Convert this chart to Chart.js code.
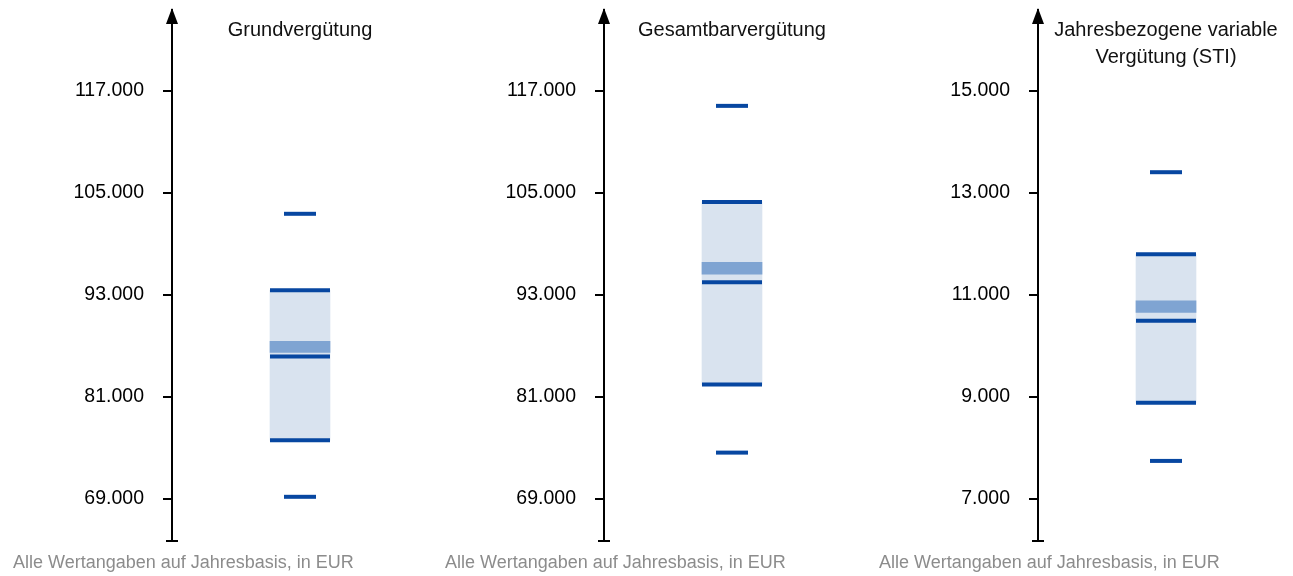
<!DOCTYPE html>
<html>
<head>
<meta charset="utf-8">
<script src="https://cdn.jsdelivr.net/npm/chart.js@4"></script>
<style>
    body { margin: 0; background: #fff; width: 1293px; height: 576px; overflow: hidden; position: relative; font-family: "Liberation Sans", Arial, sans-serif; }
    canvas { position: absolute; top: 0; }
    .title { position: absolute; top: 16px; width: 256px; text-align: center; font-size: 20px; line-height: 27px; color: #111; }
    .note { position: absolute; top: 552px; font-size: 18px; line-height: 20px; color: #8c8c8c; white-space: nowrap; }
</style>
</head>
<body>
<canvas id="panel0" width="428" height="576"></canvas>
<canvas id="panel1" width="428" height="576"></canvas>
<canvas id="panel2" width="428" height="576"></canvas>
<script>
// one entry per panel
const panelTitles = ["Grundvergütung", "Gesamtbarvergütung", "Jahresbezogene variable<br>Vergütung (STI)"];
const footNote = "Alle Wertangaben auf Jahresbasis, in EUR";
const tickValues = [
    [69000, 81000, 93000, 105000, 117000],
    [69000, 81000, 93000, 105000, 117000],
    [7000, 9000, 11000, 13000, 15000]
];
const tickLabels = [
    ["69.000", "81.000", "93.000", "105.000", "117.000"],
    ["69.000", "81.000", "93.000", "105.000", "117.000"],
    ["7.000", "9.000", "11.000", "13.000", "15.000"]
];
const axisMin = [64000, 64000, 6170];
const axisMax = [126480, 126480, 16580];

const whiskerHigh = [102500, 115200, 13400];
const boxHigh = [93500, 103900, 11790];
const bandHigh = [87500, 96800, 10880];
const bandLow = [86200, 95400, 10650];
const medianLine = [85700, 94450, 10490];
const boxLow = [75850, 82400, 8880];
const whiskerLow = [69200, 74400, 7740];

const panelLeft = [0, 432, 866];
const darkBlue = "#0747a1";

// arrow on top of the y axis and a small cap at its bottom
const axisArrow = {
    id: "axisArrow",
    afterDraw(chart) {
        const ctx = chart.ctx;
        const a = chart.chartArea;
        const x = a.left;
        ctx.save();
        ctx.fillStyle = "#000";
        ctx.beginPath();
        ctx.moveTo(x, a.top - 2);
        ctx.lineTo(x - 6, a.top + 14);
        ctx.lineTo(x + 6, a.top + 14);
        ctx.closePath();
        ctx.fill();
        ctx.strokeStyle = "#000";
        ctx.lineWidth = 2;
        ctx.beginPath();
        ctx.moveTo(x - 6, a.bottom);
        ctx.lineTo(x + 6, a.bottom);
        ctx.stroke();
        ctx.restore();
    }
};

function drawPanel(i) {
    const canvas = document.getElementById("panel" + i);
    canvas.style.left = panelLeft[i] + "px";

    const title = document.createElement("div");
    title.className = "title";
    title.innerHTML = panelTitles[i];
    title.style.left = (panelLeft[i] + 172) + "px";
    document.body.appendChild(title);

    const note = document.createElement("div");
    note.className = "note";
    note.textContent = footNote;
    note.style.left = (panelLeft[i] + 13) + "px";
    document.body.appendChild(note);

    new Chart(canvas, {
        type: "bar",
        data: {
            labels: [""],
            datasets: [
                {
                    type: "line",
                    data: [boxHigh[i], medianLine[i], boxLow[i]].map(v => ({ x: "", y: v })),
                    showLine: false,
                    pointStyle: "line",
                    pointRadius: 30,
                    pointBorderWidth: 4,
                    pointBorderColor: darkBlue,
                    order: 0
                },
                {
                    type: "line",
                    data: [whiskerHigh[i], whiskerLow[i]].map(v => ({ x: "", y: v })),
                    showLine: false,
                    pointStyle: "line",
                    pointRadius: 16,
                    pointBorderWidth: 4,
                    pointBorderColor: darkBlue,
                    order: 0
                },
                {
                    data: [[bandLow[i], bandHigh[i]]],
                    backgroundColor: "#7fa4d2",
                    barThickness: 60,
                    grouped: false,
                    order: 1
                },
                {
                    data: [[boxLow[i], boxHigh[i]]],
                    backgroundColor: "#d9e3ef",
                    barThickness: 60,
                    grouped: false,
                    order: 2
                }
            ]
        },
        options: {
            responsive: false,
            animation: false,
            events: [],
            layout: { autoPadding: false, padding: { top: 10, bottom: 35, left: 0, right: 0 } },
            plugins: { legend: { display: false }, tooltip: { enabled: false } },
            scales: {
                x: { display: false },
                y: {
                    min: axisMin[i],
                    max: axisMax[i],
                    afterBuildTicks: s => { s.ticks = tickValues[i].map(v => ({ value: v })); },
                    afterFit: s => { s.width = 172; s.paddingTop = 0; s.paddingBottom = 0; },
                    border: { color: "#000", width: 2 },
                    grid: { drawOnChartArea: false, drawTicks: true, tickLength: 9, color: "#000", lineWidth: 2 },
                    ticks: {
                        padding: 19,
                        color: "#000",
                        font: { size: 19.5, family: "Liberation Sans" },
                        callback: (v, idx) => tickLabels[i][idx]
                    }
                }
            }
        },
        plugins: [axisArrow]
    });
}

for (let i = 0; i < 3; i++) {
    drawPanel(i);
}
</script>
</body>
</html>
